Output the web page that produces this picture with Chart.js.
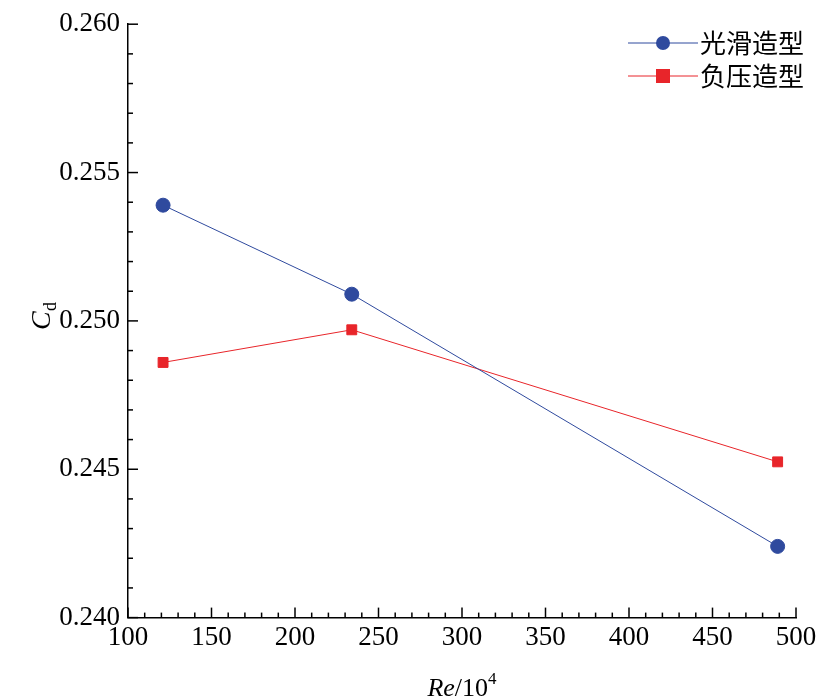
<!DOCTYPE html>
<html>
<head>
<meta charset="utf-8">
<script src="https://cdn.jsdelivr.net/npm/chart.js@4/dist/chart.umd.min.js"></script>
<style>
  html, body { margin: 0; padding: 0; background: #fff; }
  #wrap { width: 826px; height: 700px; }
</style>
</head>
<body>
<div id="wrap"><canvas id="cd-chart"></canvas></div>
<script>
    // Data
    var reynolds = [121, 234, 489];
    var smoothCd = [0.2539, 0.2509, 0.2424];
    var suctionCd = [0.2486, 0.2497, 0.24525];
    var seriesNames = ["光滑造型", "负压造型"];

    var blue = "#2f4a9e";
    var red = "#e8252a";
    var serif = "'Liberation Serif', 'Times New Roman', serif";

    function pts(xs, ys) {
        return xs.map(function (x, i) { return {x: x, y: ys[i]}; });
    }

    // Inward ticks, axis titles and legend
    var decor = {
        id: "decor",
        afterDraw: function (chart) {
            var c = chart.ctx, xs = chart.scales.x, ys = chart.scales.y;
            var a = chart.chartArea;
            c.save();
            c.strokeStyle = "#000";
            c.lineWidth = 1.5;
            for (var v = 100; v <= 500; v += 10) {
                var px = xs.getPixelForValue(v);
                var len = (v % 50 === 0) ? 10 : 5;
                c.beginPath(); c.moveTo(px, a.bottom); c.lineTo(px, a.bottom - len); c.stroke();
            }
            for (var k = 0; k <= 20; k++) {
                var py = ys.getPixelForValue(0.240 + k * 0.001);
                var l2 = (k % 5 === 0) ? 10 : 5;
                c.beginPath(); c.moveTo(a.left, py); c.lineTo(a.left + l2, py); c.stroke();
            }
            // x title
            c.fillStyle = "#000";
            c.textBaseline = "alphabetic";
            c.font = "italic 26px " + serif;
            var w1 = c.measureText("Re").width;
            c.font = "26px " + serif;
            var w2 = c.measureText("/10").width;
            c.font = "17px " + serif;
            var w3 = c.measureText("4").width;
            var x0 = (a.left + a.right) / 2 - (w1 + w2 + w3) / 2;
            var by = 696;
            c.font = "italic 26px " + serif; c.fillText("Re", x0, by);
            c.font = "26px " + serif; c.fillText("/10", x0 + w1, by);
            c.font = "17px " + serif; c.fillText("4", x0 + w1 + w2, by - 12);
            // y title
            c.save();
            c.translate(50, 318);
            c.rotate(-Math.PI / 2);
            c.font = "italic 28px " + serif; c.fillText("C", -12, 0);
            c.font = "18px " + serif; c.fillText("d", 7, 6);
            c.restore();
            // legend
            var items = [[blue, "circle"], [red, "rect"]];
            c.font = "26px 'Noto Sans CJK SC', sans-serif";
            items.forEach(function (it, i) {
                var ly = 43 + i * 33;
                c.strokeStyle = it[0]; c.lineWidth = 1;
                c.beginPath(); c.moveTo(628, ly); c.lineTo(698, ly); c.stroke();
                c.fillStyle = it[0];
                if (it[1] === "circle") {
                    c.beginPath(); c.arc(663, ly, 7, 0, Math.PI * 2); c.fill();
                } else {
                    c.fillRect(656, ly - 7, 14, 14);
                }
                c.fillStyle = "#000";
                c.textBaseline = "middle";
                c.fillText(seriesNames[i], 700, ly);
            });
            c.restore();
        }
    };

    new Chart(document.getElementById("cd-chart"), {
        type: "scatter",
        data: {
            datasets: [{
                label: seriesNames[0],
                data: pts(reynolds, smoothCd),
                showLine: true,
                borderColor: blue,
                backgroundColor: blue,
                borderWidth: 1,
                pointStyle: "circle",
                pointRadius: 7,
                pointHoverRadius: 7
            }, {
                label: seriesNames[1],
                data: pts(reynolds, suctionCd),
                showLine: true,
                borderColor: red,
                backgroundColor: red,
                borderWidth: 1,
                pointStyle: "rect",
                pointRadius: 7,
                pointHoverRadius: 7
            }]
        },
        options: {
            responsive: true,
            maintainAspectRatio: false,
            animation: false,
            layout: {padding: {left: 0, right: 30, top: 4, bottom: 42}},
            plugins: {legend: {display: false}, tooltip: {enabled: false}},
            scales: {
                x: {
                    type: "linear", min: 100, max: 500,
                    ticks: {stepSize: 50, color: "#000", font: {family: serif, size: 27}, padding: 4},
                    grid: {display: false, drawTicks: false},
                    border: {color: "#000", width: 1.5}
                },
                y: {
                    min: 0.240, max: 0.260,
                    ticks: {stepSize: 0.005, color: "#000", font: {family: serif, size: 27}, padding: 8,
                        callback: function (v) { return v.toFixed(3); }},
                    grid: {display: false, drawTicks: false},
                    border: {color: "#000", width: 1.5},
                    afterFit: function (s) { s.width = 128; }
                }
            }
        },
        plugins: [decor]
    });
</script>
</body>
</html>
